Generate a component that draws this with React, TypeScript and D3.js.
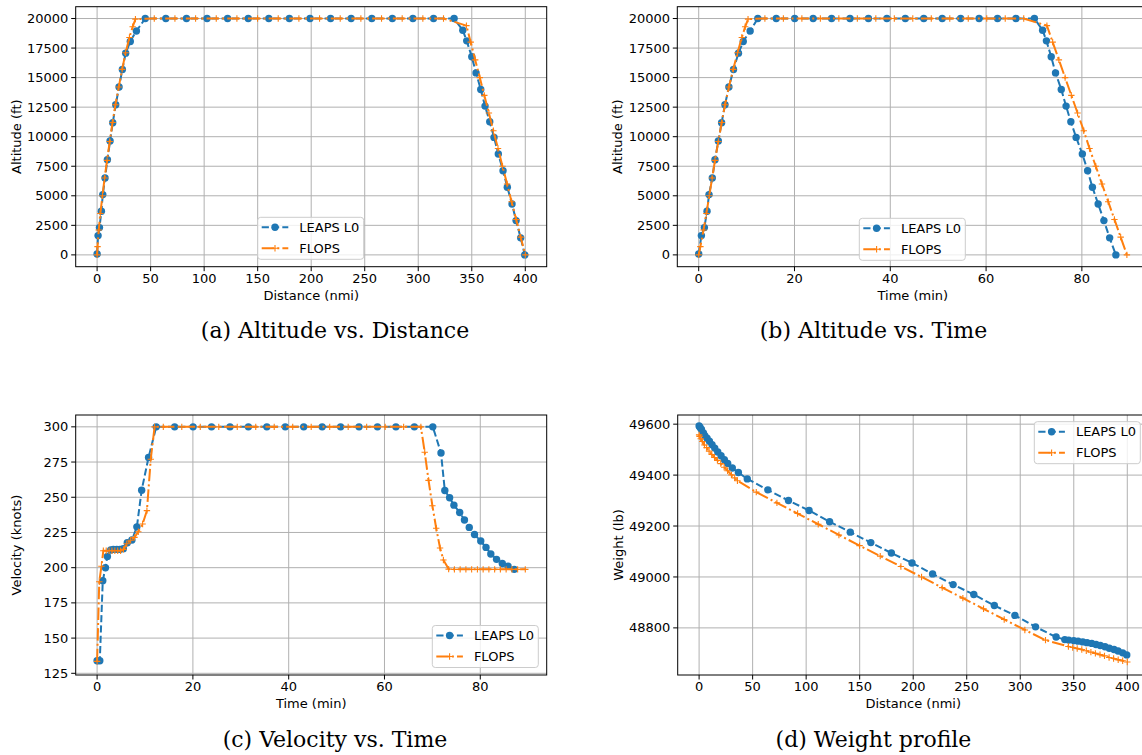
import React from 'react';
import * as d3 from 'd3';

// ---------------- data ----------------
const leapsDist = [0, 0.9, 2.2, 4, 5.3, 7.4, 9.6, 12.1, 14.6, 17.4, 20.5, 23.6, 26.7, 31, 36.7, 45,
  64.2, 83.5, 102.7, 121.9, 141.2, 160.4, 179.6, 198.9, 218.1, 237.3, 256.6, 275.8, 295, 314.3, 333.5,
  341.6, 345.3, 350, 354, 358.4, 362.4, 366.8, 370.8, 374.8, 379.2, 383.2, 387.6, 391.4, 395.7, 399.5];
const leapsAlt = [80, 1630, 2310, 3690, 5100, 6500, 8050, 9630, 11180, 12700, 14200, 15690, 17070, 18060, 18950, 20000,
  20000, 20000, 20000, 20000, 20000, 20000, 20000, 20000, 20000, 20000, 20000, 20000, 20000, 20000, 20000,
  19010, 18110, 16760, 15400, 14000, 12590, 11260, 9940, 8530, 7120, 5720, 4310, 2900, 1440, 0];
const leapsTime = [0, 0.56, 1.18, 1.74, 2.15, 2.84, 3.4, 4.1, 4.78, 5.48, 6.3, 7.27, 8.3, 9.3, 10.74, 12.34,
  16.19, 20.04, 23.89, 27.74, 31.59, 35.44, 39.29, 43.14, 46.99, 50.84, 54.69, 58.54, 62.39, 66.24, 70.09,
  71.8, 72.6, 73.6, 74.5, 75.7, 76.7, 77.7, 78.8, 80.1, 81.2, 82.2, 83.4, 84.6, 85.8, 87.1];
const leapsVel = [133.9, 133.9, 190.7, 200, 208, 212.5, 213, 213, 213, 213.5, 217.7, 219.6, 229, 255, 278.3, 300,
  300, 300, 300, 300, 300, 300, 300, 300, 300, 300, 300, 300, 300, 300, 300,
  281.5, 254.8, 249.6, 244.4, 239.2, 233.8, 228.6, 223.6, 218.9, 214.4, 209.7, 205.9, 203, 201.1, 198.8];
const leapsWeight = [49593, 49587, 49579, 49566, 49555, 49545, 49533, 49519, 49506, 49491, 49476, 49460, 49446, 49428, 49410, 49385,
  49342, 49300, 49261, 49217, 49176, 49135, 49094, 49055, 49012, 48970, 48931, 48888, 48849, 48804, 48764,
  48754, 48752, 48750, 48748, 48745, 48742, 48739, 48735, 48731, 48726, 48720, 48715, 48709, 48702, 48694];

const flopsDist = [0, 0.4, 1.5, 3, 5, 7, 9.3, 11.8, 14.4, 17.1, 20.2, 23.4, 26.6, 30.2, 33.2, 35.8,
  53.4, 72.7, 92, 111.3, 130.6, 149.9, 169.2, 188.5, 207.8, 227.1, 246.4, 265.7, 285, 304.3, 323.6,
  345, 349, 353.2, 357.5, 361.7, 366, 370.2, 374.5, 378.7, 383, 387.2, 391.5, 395.7, 400];
const flopsAlt = [0, 700, 2100, 3500, 5000, 6500, 8000, 9600, 11200, 12700, 14200, 15700, 17100, 18400, 19300, 19950,
  20000, 20000, 20000, 20000, 20000, 20000, 20000, 20000, 20000, 20000, 20000, 20000, 20000, 20000, 20000,
  19400, 18000, 16500, 15000, 13500, 12000, 10500, 9000, 7500, 6000, 4500, 3000, 1500, 0];
const flopsTime = [0, 0.35, 1.0, 1.6, 2.2, 2.8, 3.4, 4.1, 4.8, 5.5, 6.3, 7.2, 8.1, 9.0, 9.7, 10.3,
  13.82, 17.68, 21.54, 25.4, 29.26, 33.12, 36.98, 40.84, 44.7, 48.56, 52.42, 56.28, 60.14, 64.0, 67.86,
  72.7, 73.9, 75.2, 76.5, 77.8, 79.1, 80.4, 81.6, 82.9, 84.2, 85.5, 86.8, 88.1, 89.4];
const flopsWeight = [49558, 49552, 49543, 49532, 49518, 49508, 49494, 49481, 49469, 49458, 49445, 49431, 49417, 49401, 49389, 49378,
  49333, 49291, 49249, 49207, 49165, 49123, 49082, 49041, 49000, 48958, 48917, 48875, 48833, 48792, 48752,
  48727, 48723, 48719, 48715, 48710, 48705, 48700, 48695, 48690, 48684, 48680, 48675, 48671, 48666];
const flopsVelTime = [0, 0.45, 0.9, 1.3, 1.9, 2.5, 3.1, 3.7, 4.3, 4.9, 5.5, 6.2, 7.0, 7.8, 8.6, 9.5, 10.4, 11.2, 12.0,
  13.82, 17.68, 21.54, 25.4, 29.26, 33.12, 36.98, 40.84, 44.7, 48.56, 52.42, 56.28, 60.14, 64.0, 67.6,
  68.4, 69.2, 70.0, 70.8, 71.6, 72.3, 73.4, 74.6, 75.8, 77.0, 78.2, 79.4, 80.6, 81.8, 83.0, 84.2, 85.4, 86.6, 87.8, 89.4];
const flopsVel = [133.5, 190, 201, 212, 212, 212, 212, 212, 212, 212, 213, 217, 219.5, 221.5, 225.5, 231, 240.5, 277, 300,
  300, 300, 300, 300, 300, 300, 300, 300, 300, 300, 300, 300, 300, 300, 300,
  282, 262, 244, 228, 214, 205.5, 199, 198.8, 198.8, 198.8, 198.8, 198.8, 198.8, 198.8, 198.8, 198.8, 198.8, 198.8, 198.8, 198.8];

const seriesNames = ['LEAPS L0', 'FLOPS'];
const distTicks = [0, 50, 100, 150, 200, 250, 300, 350, 400];
const timeTicks = [0, 20, 40, 60, 80];
const altTicks = [0, 2500, 5000, 7500, 10000, 12500, 15000, 17500, 20000];
const velTicks = [125, 150, 175, 200, 225, 250, 275, 300];
const weightTicks = [48800, 49000, 49200, 49400, 49600];
const captions = ['(a) Altitude vs. Distance', '(b) Altitude vs. Time', '(c) Velocity vs. Time', '(d) Weight profile'];

// ---------------- style ----------------
const W = 1142, H = 755;
const BLUE = '#1f77b4', ORANGE = '#ff7f0e';
const FONT = '"DejaVu Sans", sans-serif';
const SERIF = '"DejaVu Serif", serif';
const DASH_LEAPS = '7.2,3.1';
const DASH_FLOPS = '12.5,3.1,2,3.1';

type Spec = {
  left: number; top: number; width: number; height: number;
  xDomain: [number, number]; yDomain: [number, number];
  xTicks: number[]; yTicks: number[];
  xLabel: string; yLabel: string;
  lx: number[]; ly: number[]; fx: number[]; fy: number[];
  legend: [number, number];
  caption: string; capX: number; capY: number;
};

function Plus({ cx, cy, r, color }: { cx: number; cy: number; r: number; color: string }) {
  return <path d={`M${cx - r},${cy}h${2 * r}M${cx},${cy - r}v${2 * r}`} stroke={color} strokeWidth={1.1} fill="none" />;
}

function Panel({ s }: { s: Spec }) {
  const x = d3.scaleLinear().domain(s.xDomain).range([s.left, s.left + s.width]);
  const y = d3.scaleLinear().domain(s.yDomain).range([s.top + s.height, s.top]);
  const line = d3.line<[number, number]>().x(d => x(d[0])).y(d => y(d[1]));
  const lp: [number, number][] = s.lx.map((v, i) => [v, s.ly[i]]);
  const fp: [number, number][] = s.fx.map((v, i) => [v, s.fy[i]]);
  const bottom = s.top + s.height;
  const right = s.left + s.width;
  const [lgx, lgy] = s.legend;
  return (
    <g>
      {s.xTicks.map(t => (
        <line key={'gx' + t} x1={x(t)} x2={x(t)} y1={s.top} y2={bottom} stroke="#b0b0b0" strokeWidth={1} />
      ))}
      {s.yTicks.map(t => (
        <line key={'gy' + t} x1={s.left} x2={right} y1={y(t)} y2={y(t)} stroke="#b0b0b0" strokeWidth={1} />
      ))}
      <path d={line(lp) || ''} fill="none" stroke={BLUE} strokeWidth={2} strokeDasharray={DASH_LEAPS} />
      {lp.map((d, i) => <circle key={'lm' + i} cx={x(d[0])} cy={y(d[1])} r={3.7} fill={BLUE} />)}
      <path d={line(fp) || ''} fill="none" stroke={ORANGE} strokeWidth={2} strokeDasharray={DASH_FLOPS} />
      {fp.map((d, i) => <Plus key={'fm' + i} cx={x(d[0])} cy={y(d[1])} r={3.2} color={ORANGE} />)}
      <rect x={s.left} y={s.top} width={s.width} height={s.height} fill="none" stroke="#000" strokeWidth={1} />
      {s.xTicks.map(t => (
        <g key={'xt' + t}>
          <line x1={x(t)} x2={x(t)} y1={bottom} y2={bottom + 4.5} stroke="#000" strokeWidth={1} />
          <text x={x(t)} y={bottom + 16} textAnchor="middle" fontSize={13} fontFamily={FONT}>{t}</text>
        </g>
      ))}
      {s.yTicks.map(t => (
        <g key={'yt' + t}>
          <line x1={s.left - 4.5} x2={s.left} y1={y(t)} y2={y(t)} stroke="#000" strokeWidth={1} />
          <text x={s.left - 7.3} y={y(t) + 4.6} textAnchor="end" fontSize={13} fontFamily={FONT}>{t}</text>
        </g>
      ))}
      <text x={(s.left + right) / 2} y={bottom + 33} textAnchor="middle" fontSize={13} fontFamily={FONT}>{s.xLabel}</text>
      <text transform={`translate(${s.left - 55},${s.top + s.height / 2}) rotate(-90)`} textAnchor="middle" fontSize={13} fontFamily={FONT}>{s.yLabel}</text>
      <g>
        <rect x={lgx} y={lgy} width={106} height={42} rx={3} fill="#fff" fillOpacity={0.8} stroke="#cccccc" strokeWidth={1} />
        <line x1={lgx + 4} x2={lgx + 30.6} y1={lgy + 10} y2={lgy + 10} stroke={BLUE} strokeWidth={2} strokeDasharray={DASH_LEAPS} />
        <circle cx={lgx + 17.3} cy={lgy + 10} r={3.7} fill={BLUE} />
        <text x={lgx + 41.6} y={lgy + 14.6} fontSize={13} fontFamily={FONT}>{seriesNames[0]}</text>
        <line x1={lgx + 4} x2={lgx + 30.6} y1={lgy + 31} y2={lgy + 31} stroke={ORANGE} strokeWidth={2} strokeDasharray={DASH_FLOPS} />
        <Plus cx={lgx + 17.3} cy={lgy + 31} r={3.2} color={ORANGE} />
        <text x={lgx + 41.6} y={lgy + 35.6} fontSize={13} fontFamily={FONT}>{seriesNames[1]}</text>
      </g>
      <text x={s.capX} y={s.capY} textAnchor="middle" fontSize={22} fontFamily={SERIF}>{s.caption}</text>
    </g>
  );
}

const specs: Spec[] = [
  {
    left: 75.7, top: 6.7, width: 471, height: 260,
    xDomain: [-20, 420], yDomain: [-1000, 21000], xTicks: distTicks, yTicks: altTicks,
    xLabel: 'Distance (nmi)', yLabel: 'Altitude (ft)',
    lx: leapsDist, ly: leapsAlt, fx: flopsDist, fy: flopsAlt,
    legend: [257.7, 217.3], caption: captions[0], capX: 335, capY: 338,
  },
  {
    left: 677.3, top: 6.7, width: 471, height: 260,
    xDomain: [-4.47, 93.87], yDomain: [-1000, 21000], xTicks: timeTicks, yTicks: altTicks,
    xLabel: 'Time (min)', yLabel: 'Altitude (ft)',
    lx: leapsTime, ly: leapsAlt, fx: flopsTime, fy: flopsAlt,
    legend: [859.3, 218.3], caption: captions[1], capX: 873.5, capY: 338,
  },
  {
    left: 75.7, top: 415, width: 471, height: 260,
    xDomain: [-4.47, 93.87], yDomain: [123.8, 308.4], xTicks: timeTicks, yTicks: velTicks,
    xLabel: 'Time (min)', yLabel: 'Velocity (knots)',
    lx: leapsTime, ly: leapsVel, fx: flopsVelTime, fy: flopsVel,
    legend: [432.3, 625.5], caption: captions[2], capX: 335, capY: 746.5,
  },
  {
    left: 677.7, top: 415, width: 471, height: 260,
    xDomain: [-20, 420], yDomain: [48615, 49636], xTicks: distTicks, yTicks: weightTicks,
    xLabel: 'Distance (nmi)', yLabel: 'Weight (lb)',
    lx: leapsDist, ly: leapsWeight, fx: flopsDist, fy: flopsWeight,
    legend: [1034.3, 421.7], caption: captions[3], capX: 873.5, capY: 746.5,
  },
];

export default function App() {
  return (
    <svg width={W} height={H} viewBox={`0 0 ${W} ${H}`}
      style={{ position: 'absolute', left: 0, top: 0, background: '#fff', overflow: 'hidden' }}>
      <rect x={0} y={0} width={W} height={H} fill="#fff" />
      {specs.map((s, i) => <Panel key={i} s={s} />)}
    </svg>
  );
}
